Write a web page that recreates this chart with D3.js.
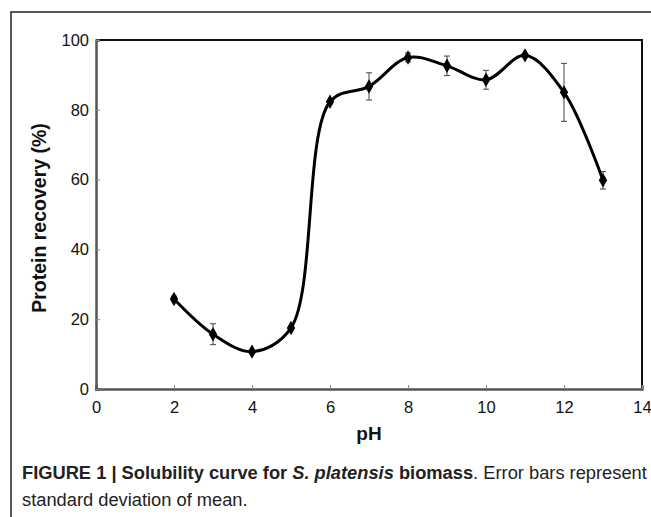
<!DOCTYPE html>
<html><head><meta charset="utf-8">
<script src="https://cdn.jsdelivr.net/npm/d3@7"></script>
<style>
html,body{margin:0;padding:0;background:#fff;}
svg{display:block;font-family:"Liberation Sans",Arial,sans-serif;}
</style></head>
<body>
<svg id="chart" width="651" height="517"></svg>
<script>
const pH = [2,3,4,5,6,7,8,9,10,11,12,13];
const recovery = [25.8,15.7,10.7,17.5,82.3,86.7,95.0,92.6,88.6,95.6,85.0,59.8];
const stdev = [0.8,3.0,0.5,0.5,0.5,3.9,1.3,2.8,2.7,0.5,8.3,2.5];
const xTicks = [0,2,4,6,8,10,12,14];
const yTicks = [0,20,40,60,80,100];

const svg = d3.select("#chart");
const m = {left:96, right:642, top:40, bottom:389};
const x = d3.scaleLinear().domain([0,14]).range([m.left,m.right]);
const y = d3.scaleLinear().domain([0,100]).range([m.bottom,m.top]);

// outer frame
svg.append("path").attr("d","M11,517 V12 H651").attr("fill","none").attr("stroke","#222").attr("stroke-width",1.5);

// plot box top & right
svg.append("path").attr("d",`M${m.left},${m.top} H${m.right} V${m.bottom}`).attr("fill","none").attr("stroke","#111").attr("stroke-width",2);

// axes
const gx = svg.append("g").attr("transform",`translate(0,${m.bottom})`)
  .call(d3.axisBottom(x).tickValues(xTicks).tickSize(-4).tickPadding(16).tickFormat(d3.format("d")));
const gy = svg.append("g").attr("transform",`translate(${m.left},0)`)
  .call(d3.axisLeft(y).tickValues(yTicks).tickSize(-4).tickPadding(7).tickFormat(d3.format("d")));
[gx,gy].forEach(g=>{
  g.select(".domain").attr("stroke","#555").attr("stroke-width",2.5);
  g.selectAll(".tick line").attr("stroke","#888").attr("stroke-width",1);
  g.selectAll(".tick text").attr("font-size",16.5).attr("fill","#111").attr("font-family","Liberation Sans, Arial, sans-serif");
});
gx.selectAll(".tick text").attr("dy","0.5em");

// axis titles
svg.append("text").attr("x",369).attr("y",440).attr("text-anchor","middle")
  .attr("font-size",19).attr("font-weight","bold").attr("fill","#111").text("pH");
svg.append("text").attr("transform","translate(46,218) rotate(-90)").attr("text-anchor","middle")
  .attr("font-size",19.5).attr("font-weight","bold").attr("fill","#111").text("Protein recovery (%)");

const data = pH.map((p,i)=>({p, v:recovery[i], e:stdev[i]}));

// error bars
const eb = svg.append("g").attr("stroke","#444").attr("stroke-width",1);
data.forEach(d=>{
  eb.append("line").attr("x1",x(d.p)).attr("x2",x(d.p)).attr("y1",y(d.v-d.e)).attr("y2",y(d.v+d.e));
  [d.v-d.e,d.v+d.e].forEach(v=>eb.append("line").attr("x1",x(d.p)-3).attr("x2",x(d.p)+3).attr("y1",y(v)).attr("y2",y(v)));
});

// curve
const line = d3.line().x(d=>x(d.p)).y(d=>y(d.v)).curve(d3.curveCatmullRom.alpha(0.5));
svg.append("path").datum(data).attr("d",line).attr("fill","none").attr("stroke","#000").attr("stroke-width",3);

// markers
svg.append("g").selectAll("path").data(data).join("path")
  .attr("transform",d=>`translate(${x(d.p)},${y(d.v)})`)
  .attr("d",d3.symbol(d3.symbolDiamond,60)())
  .attr("fill","#000");

// caption
const cap = svg.append("text").attr("x",22).attr("y",479).attr("font-size",18.3).attr("fill","#222");
cap.append("tspan").attr("font-weight","bold").text("FIGURE 1 | Solubility curve for ");
cap.append("tspan").attr("font-weight","bold").attr("font-style","italic").text("S. platensis");
cap.append("tspan").attr("font-weight","bold").text(" biomass");
cap.append("tspan").text(". Error bars represent");
svg.append("text").attr("x",22).attr("y",506).attr("font-size",18.3).attr("fill","#222").text("standard deviation of mean.");
</script>
</body></html>
